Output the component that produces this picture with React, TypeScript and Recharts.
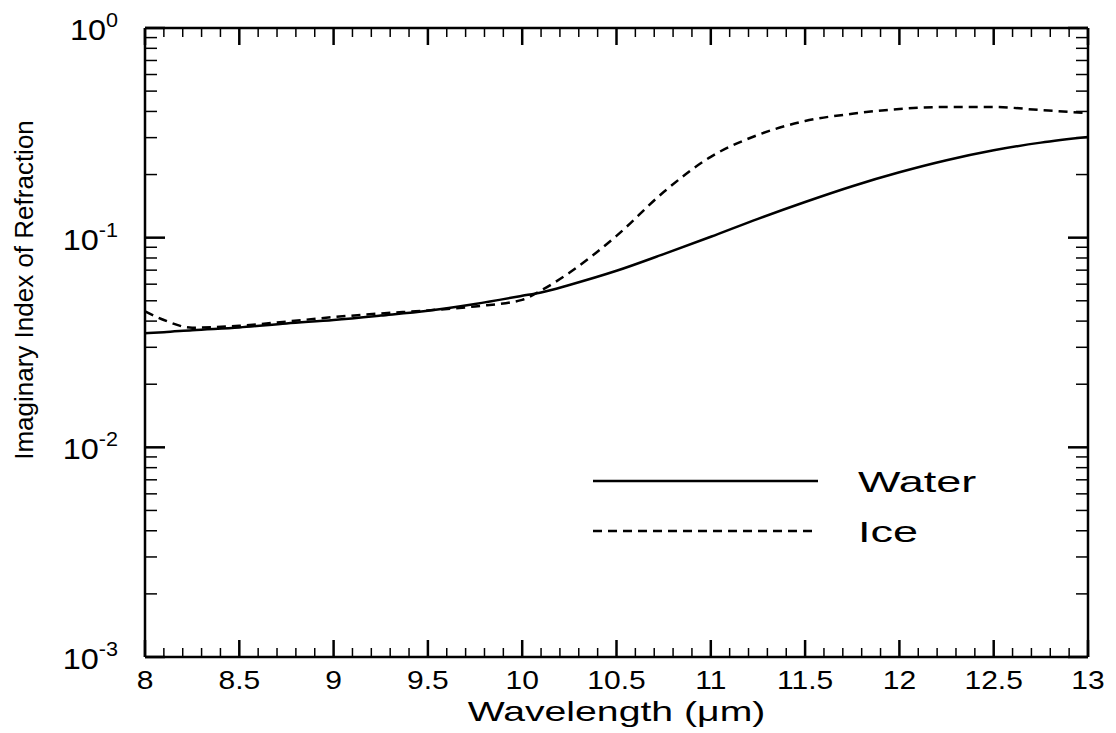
import React from "react";
import { LineChart, Line, XAxis, YAxis, Legend } from "recharts";

// Imaginary refractive index of water and ice, 8–13 µm
const wavelength = [8, 8.1, 8.25, 8.5, 8.75, 9, 9.25, 9.5, 9.75, 10, 10.1, 10.25, 10.5, 10.75, 11, 11.25, 11.5, 11.75, 12, 12.25, 12.5, 12.75, 13];
const water = [0.035, 0.0354, 0.0362, 0.0373, 0.039, 0.0405, 0.0425, 0.0448, 0.0483, 0.0528, 0.0548, 0.0595, 0.0695, 0.0835, 0.101, 0.123, 0.148, 0.176, 0.205, 0.234, 0.261, 0.284, 0.302];
const ice = [0.0445, 0.0405, 0.0372, 0.038, 0.0398, 0.0418, 0.0435, 0.045, 0.047, 0.0505, 0.056, 0.068, 0.102, 0.165, 0.243, 0.309, 0.36, 0.39, 0.411, 0.42, 0.42, 0.406, 0.393];

const xMajorTicks = [8, 8.5, 9, 9.5, 10, 10.5, 11, 11.5, 12, 12.5, 13];
const yMajorTicks = [0.001, 0.01, 0.1, 1];
// tick marks only (no labels): every 0.1 µm, and 2..9 within each decade
const xAllTicks = Array.from({ length: 51 }, (_, i) => +(8 + i * 0.1).toFixed(1));
const yAllTicks = [...yMajorTicks, ...[0.001, 0.01, 0.1].flatMap((d) => [2, 3, 4, 5, 6, 7, 8, 9].map((m) => +(d * m).toPrecision(2)))];

const series = [
  { key: "water", name: "Water", dash: undefined as string | undefined },
  { key: "ice", name: "Ice", dash: "9 6" },
];

const data = wavelength.map((w, i) => ({ w, water: water[i], ice: ice[i] }));

const FONT = '"Liberation Sans", Arial, Helvetica, sans-serif';
const INK = "#000";

function XTick({ x, y, payload }: any) {
  return (
    <text transform={`translate(${x},${y}) scale(1.2,1)`} textAnchor="middle" dy="0.71em"
      fontSize={25} fontFamily={FONT} fill={INK}>
      {payload.value}
    </text>
  );
}

function YTick({ x, y, payload }: any) {
  const exp = Math.round(Math.log10(payload.value));
  return (
    <text transform={`translate(${x},${y + 12}) scale(1.08,1)`} textAnchor="end" fontSize={30} fontFamily={FONT} fill={INK}>
      10<tspan dy={-13} fontSize={20}>{exp}</tspan>
    </text>
  );
}

// inward tick mark drawn from the axis edge; majors longer and heavier
function TickMark({ x, y, payload, side, majors, minorLen, majorLen }: any) {
  const big = majors.includes(payload.value);
  const len = big ? majorLen : minorLen;
  let x2 = x;
  let y2 = y;
  if (side === "bottom") y2 = y - len;
  else if (side === "top") y2 = y + len;
  else if (side === "left") x2 = x + len;
  else x2 = x - len;
  return <line x1={x} y1={y} x2={x2} y2={y2} stroke={INK} strokeWidth={big ? 2.5 : 1.5} />;
}

function LegendBox({ payload }: any) {
  const items = [...(payload || [])].sort(
    (a: any, b: any) => series.findIndex((s) => s.name === a.value) - series.findIndex((s) => s.name === b.value)
  );
  return (
    <svg width={420} height={100} style={{ display: "block" }}>
      {items.map((p: any, i: number) => {
        const s = series.find((d) => d.name === p.value);
        const cy = 26 + i * 50;
        return (
          <g key={p.value}>
            <line x1={3} x2={228} y1={cy} y2={cy} stroke={INK} strokeWidth={2.5} strokeDasharray={s?.dash} />
            <text transform={`translate(268,${cy + 11}) scale(1.5,1)`} fontSize={30} fontFamily={FONT} fill={INK}>
              {p.value}
            </text>
          </g>
        );
      })}
    </svg>
  );
}

export default function App() {
  const frame = { stroke: INK, strokeWidth: 2.5 };
  const xMirror = { dataKey: "w", type: "number" as const, domain: [8, 13], allowDataOverflow: true, ticks: xAllTicks, interval: 0, tickSize: 0, tickMargin: 0, tickLine: false, mirror: true };
  const yMirror = { type: "number" as const, scale: "log" as const, domain: [0.001, 1], allowDataOverflow: true, ticks: yAllTicks, interval: 0, tickSize: 0, tickMargin: 0, tickLine: false, mirror: true };
  return (
    <div style={{ position: "absolute", left: 0, top: 0, width: 1116, height: 733, background: "#fff" }}>
      <LineChart width={1116} height={733} data={data} margin={{ top: 28, right: 28, left: 0, bottom: 0 }}>
        {/* labelled axes */}
        <XAxis dataKey="w" type="number" domain={[8, 13]} allowDataOverflow ticks={xMajorTicks} interval={0}
          height={76} tickLine={false} tickSize={0} tickMargin={14} axisLine={frame} tick={<XTick />}
          label={{
            content: ({ viewBox }: any) => (
              <text transform={`translate(${viewBox.x + viewBox.width / 2},${viewBox.y + 64}) scale(1.4,1)`}
                textAnchor="middle" fontSize={28} fontFamily={FONT} fill={INK}>
                Wavelength (μm)
              </text>
            ),
          }}
        />
        <YAxis type="number" scale="log" domain={[0.001, 1]} allowDataOverflow ticks={yMajorTicks} interval={0}
          width={145} tickLine={false} tickSize={0} tickMargin={27} axisLine={frame} tick={<YTick />}
          label={{
            content: () => (
              <text transform="translate(33,290) rotate(-90)" textAnchor="middle" fontSize={26}
                fontFamily={FONT} fill={INK}>
                Imaginary Index of Refraction
              </text>
            ),
          }}
        />

        {/* inward tick marks on all four sides */}
        <XAxis xAxisId="bTicks" orientation="bottom" {...xMirror} axisLine={false}
          tick={<TickMark side="bottom" majors={xMajorTicks} minorLen={9} majorLen={17} />} />
        <XAxis xAxisId="tTicks" orientation="top" {...xMirror} axisLine={frame}
          tick={<TickMark side="top" majors={xMajorTicks} minorLen={9} majorLen={17} />} />
        <YAxis yAxisId="lTicks" orientation="left" {...yMirror} axisLine={false}
          tick={<TickMark side="left" majors={yMajorTicks} minorLen={12} majorLen={20} />} />
        <YAxis yAxisId="rTicks" orientation="right" {...yMirror} axisLine={frame}
          tick={<TickMark side="right" majors={yMajorTicks} minorLen={12} majorLen={20} />} />

        <Legend layout="vertical" align="center" verticalAlign="middle" content={<LegendBox />}
          wrapperStyle={{ position: "absolute", left: 590, top: 455, width: 420, height: 100 }} />

        {series.map((s) => (
          <Line key={s.key} dataKey={s.key} name={s.name} type="monotone" stroke={INK} strokeWidth={2.5}
            strokeDasharray={s.dash} dot={false} activeDot={false} isAnimationActive={false} />
        ))}
      </LineChart>
    </div>
  );
}
